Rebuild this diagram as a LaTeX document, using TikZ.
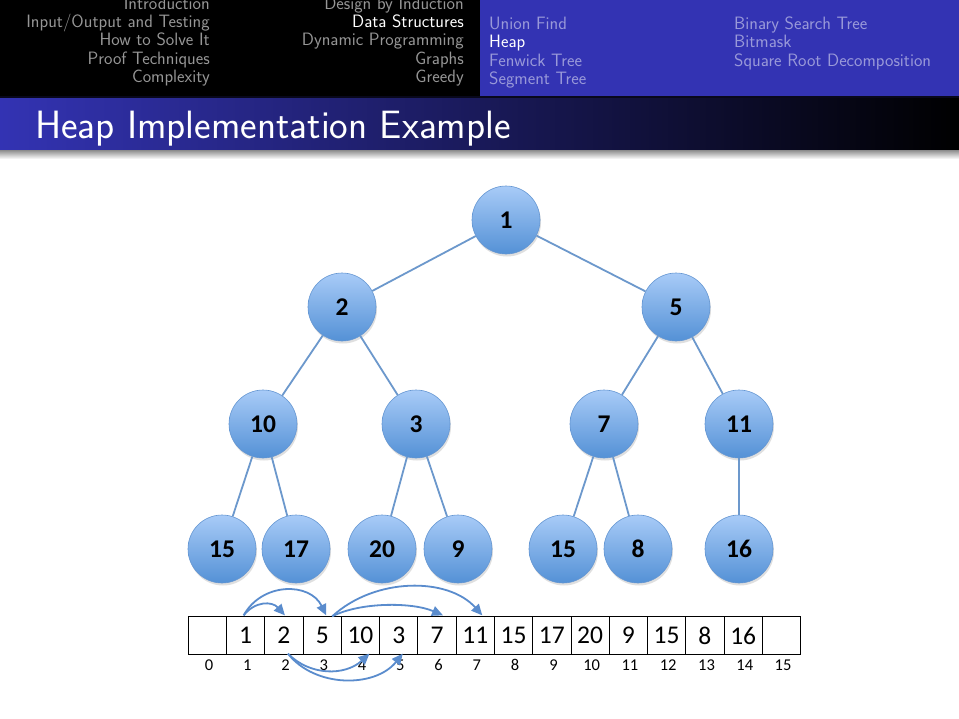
\documentclass[tikz,border=0pt]{standalone}
\usepackage{fontspec}
\newfontfamily\carlito{Carlito}
\usetikzlibrary{arrows.meta,shadows,calc}
\definecolor{hdrblue}{RGB}{51,51,179}
\definecolor{dimblack}{RGB}{150,150,150}
\definecolor{dimblue}{RGB}{153,153,217}
\definecolor{nodetop}{RGB}{168,203,247}
\definecolor{nodebot}{RGB}{84,145,214}
\definecolor{nodeline}{RGB}{100,150,210}
\definecolor{edgecol}{RGB}{108,152,204}
\definecolor{arrcol}{RGB}{90,140,205}
\begin{document}
\begin{tikzpicture}[x=1pt,y=-1pt,
  hdr/.style={font=\sffamily\fontsize{17.9}{20}\selectfont, inner sep=0pt},
  hdrL/.style={hdr, anchor=base east, text=dimblack},
  hdrR/.style={hdr, anchor=base west, text=dimblue},
  hnode/.style={circle, minimum size=68pt, inner sep=0pt, draw=nodeline, line width=0.6pt,
    top color=nodetop, bottom color=nodebot,
    drop shadow={opacity=0.25, shadow xshift=1pt, shadow yshift=-2.5pt},
    font=\carlito\bfseries\fontsize{25.5}{30}\selectfont},
  tedge/.style={draw=edgecol, line width=1.8pt},
  cell/.style={draw=black, line width=0.8pt, minimum width=38.27pt, minimum height=37.5pt,
    inner sep=0pt, font=\carlito\fontsize{25.5}{30}\selectfont},
  idx/.style={font=\carlito\fontsize{16.5}{19}\selectfont, inner sep=0pt, anchor=base},
  harrow/.style={draw=arrcol, line width=1.8pt, -{Triangle[length=11pt,width=10pt]}}
]
\useasboundingbox (0,0) rectangle (959,718);
\fill[white] (0,0) rectangle (959,718);
% header
\fill[black] (0,0) rectangle (480,96);
\fill[hdrblue] (480,0) rectangle (959,96);
\fill[black!85!hdrblue] (0,96) rectangle (959,98);
\node[hdrL] (s1) at (210,9) {Introduction};
\node[hdrL] (s2) at (210,27.4) {Input/Output and Testing};
\node[hdrL] (s3) at (210,45.8) {How to Solve It};
\node[hdrL] (s4) at (210,64.2) {Proof Techniques};
\node[hdrL] (s5) at (210,82.6) {Complexity};
\node[hdrL] (m1) at (464,9) {Design by Induction};
\node[hdrL,text=white] (m2) at (464,27.4) {Data Structures};
\node[hdrL] (m3) at (464,45.8) {Dynamic Programming};
\node[hdrL] (m4) at (464,64.2) {Graphs};
\node[hdrL] (m5) at (464,82.6) {Greedy};
\node[hdrR] (r1) at (489,29.5) {Union Find};
\node[hdrR,text=white] (r2) at (489,47.9) {Heap};
\node[hdrR] (r3) at (489,66.3) {Fenwick Tree};
\node[hdrR] (r4) at (489,84.7) {Segment Tree};
\node[hdrR] (q1) at (734,29.5) {Binary Search Tree};
\node[hdrR] (q2) at (734,47.9) {Bitmask};
\node[hdrR] (q3) at (734,66.3) {Square Root Decomposition};
% title bar
\shade[left color=hdrblue, right color=black] (0,98) rectangle (959,150);
\shade[top color=black!45, bottom color=white] (0,150) rectangle (959,159);
\node[font=\sffamily\fontsize{39.5}{44}\selectfont, text=white, anchor=base west, inner sep=0pt] (title) at (35,138) {Heap Implementation Example};
% tree
\node[hnode] (n1) at (506,220) {1};
\node[hnode] (n2) at (342,307) {2};
\node[hnode] (n3) at (676,307) {5};
\node[hnode] (n4) at (263,424) {10};
\node[hnode] (n5) at (416,424) {3};
\node[hnode] (n6) at (604,424) {7};
\node[hnode] (n7) at (739,424) {11};
\node[hnode] (n8) at (222,549) {15};
\node[hnode] (n9) at (296,549) {17};
\node[hnode] (n10) at (382,549) {20};
\node[hnode] (n11) at (458,549) {9};
\node[hnode] (n12) at (563,549) {15};
\node[hnode] (n13) at (638,549) {8};
\node[hnode] (n14) at (739,549) {16};
\foreach \a/\b in {n1/n2,n1/n3,n2/n4,n2/n5,n3/n6,n3/n7,n4/n8,n4/n9,n5/n10,n5/n11,n6/n12,n6/n13,n7/n14}
  \draw[tedge] (\a) -- (\b);
% array
\foreach \i/\v in {0/,1/1,2/2,3/5,4/10,5/3,6/7,7/11,8/15,9/17,10/20,11/9,12/15,13/8,14/16,15/}{
  \node[cell] (c\i) at (207.4+38.27*\i,635.5) {\v};
  \node[idx] (i\i) at (209+38.27*\i,670) {\i};
}
% arrows above
\coordinate (a1) at ($(c1.north)+(-2,-1)$);
\coordinate (a2) at ($(c2.north)+(1,-1)$);
\coordinate (a3) at ($(c3.north)+(4,-1)$);
\coordinate (a3s) at ($(c3.north)+(10,0)$);
\coordinate (a6) at ($(c6.north)+(6,-1)$);
\coordinate (a7) at ($(c7.north)+(7,-1)$);
\draw[harrow] (a1) .. controls (255,601) and (272,601) .. (a2);
\draw[harrow] (a1) .. controls (262,582) and (310,582) .. (a3);
\draw[harrow] (a3s) .. controls (360,602) and (412,602) .. (a6);
\draw[harrow] (a3s) .. controls (375,577) and (448,577) .. (a7);
% arrows below
\coordinate (b2) at ($(c2.south)+(4,-1)$);
\coordinate (b4) at ($(c4.south)+(9,-1)$);
\coordinate (b5) at ($(c5.south)+(4,-1)$);
\draw[harrow] (b2) .. controls (310,676) and (345,676) .. (b4);
\draw[harrow] (b2) .. controls (315,688) and (375,688) .. (b5);
\end{tikzpicture}
\end{document}
